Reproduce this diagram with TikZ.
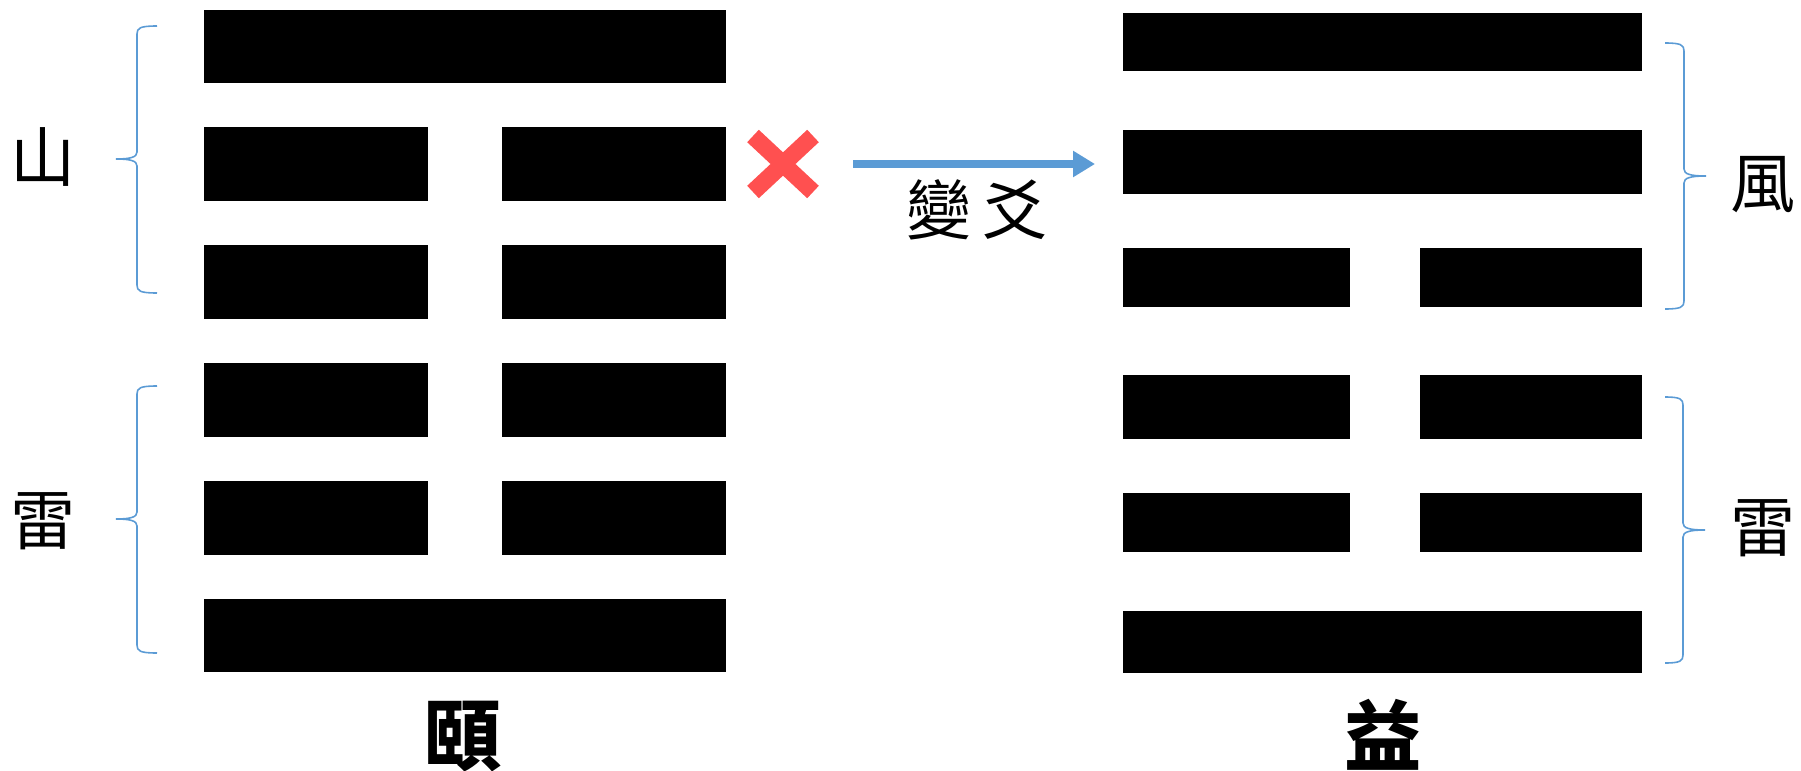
\documentclass[tikz,border=0pt]{standalone}
\usepackage{fontspec}
\usepackage{tikz}
\usetikzlibrary{arrows.meta, calc}
\newfontfamily\cjk{Noto Sans CJK TC}

\begin{document}
\begin{tikzpicture}[x=0.01cm, y=-0.01cm]
        % 定义颜色
        \definecolor{braceBlue}{RGB}{91,155,213}  % 括号/箭头蓝
        \definecolor{crossRed}{RGB}{255,80,80}    % 叉号红
        \tikzset{
            yao/.style={fill=black},
            gua/.style={font=\cjk\fontsize{18.5}{20}\selectfont, inner sep=0pt},
            ming/.style={font=\cjk\bfseries\fontsize{22}{24}\selectfont, inner sep=0pt},
            kuohao/.style={draw=braceBlue, line width=0.45pt},
        }
        \useasboundingbox (0,0) rectangle (1801,770);

        % 左边: 颐卦 (上山下雷)
        \fill[yao] (204,10) rectangle (726,83);
        \fill[yao] (204,127) rectangle (428,201);
        \fill[yao] (502,127) rectangle (726,201);
        \fill[yao] (204,245) rectangle (428,319);
        \fill[yao] (502,245) rectangle (726,319);
        \fill[yao] (204,363) rectangle (428,437);
        \fill[yao] (502,363) rectangle (726,437);
        \fill[yao] (204,481) rectangle (428,555);
        \fill[yao] (502,481) rectangle (726,555);
        \fill[yao] (204,599) rectangle (726,672);

        % 右边: 益卦 (上风下雷)
        \fill[yao] (1123,13) rectangle (1642,71);
        \fill[yao] (1123,130) rectangle (1642,194);
        \fill[yao] (1123,248) rectangle (1350,307);
        \fill[yao] (1420,248) rectangle (1642,307);
        \fill[yao] (1123,375) rectangle (1350,439);
        \fill[yao] (1420,375) rectangle (1642,439);
        \fill[yao] (1123,493) rectangle (1350,552);
        \fill[yao] (1420,493) rectangle (1642,552);
        \fill[yao] (1123,611) rectangle (1642,673);

        % 括号
        \draw[kuohao] (157,26) .. controls (140,26) and (137,28) .. (137,34) -- (137,152)
            .. controls (137,157) and (131,159) .. (116,159) .. controls (131,159) and (137,161) .. (137,166)
            -- (137,285) .. controls (137,291) and (140,293) .. (157,293);
        \draw[kuohao] (157,386) .. controls (140,386) and (137,388) .. (137,394) -- (137,512)
            .. controls (137,517) and (131,519) .. (116,519) .. controls (131,519) and (137,521) .. (137,526)
            -- (137,645) .. controls (137,651) and (140,653) .. (157,653);
        \draw[kuohao] (1665,43) .. controls (1681,43) and (1684,45) .. (1684,51) -- (1684,169)
            .. controls (1684,174) and (1690,176) .. (1706,176) .. controls (1690,176) and (1684,178) .. (1684,183)
            -- (1684,301) .. controls (1684,307) and (1681,309) .. (1665,309);
        \draw[kuohao] (1665,397) .. controls (1680,397) and (1683,399) .. (1683,405) -- (1683,523)
            .. controls (1683,528) and (1689,530) .. (1705,530) .. controls (1689,530) and (1683,532) .. (1683,537)
            -- (1683,655) .. controls (1683,661) and (1680,663) .. (1665,663);

        % 卦名
        \node[gua] (shan) at (43,157) {山};
        \node[gua] (leiL) at (43,521) {雷};
        \node[gua] (feng) at (1763,185) {風};
        \node[gua] (leiR) at (1763,528) {雷};
        \node[ming] (yi1) at (463,737) {頤};
        \node[ming] (yi2) at (1383,735) {益};

        % 叉号与变爻箭头
        \coordinate (cross) at (783,164);
        \draw[crossRed, line width=0.17cm] ($(cross)+(-30,-28)$) -- ($(cross)+(30,28)$);
        \draw[crossRed, line width=0.17cm] ($(cross)+(-30,28)$) -- ($(cross)+(30,-28)$);
        \coordinate (from) at (853,164);
        \coordinate (to) at (1095,164);
        \draw[braceBlue, line width=0.08cm, -{Triangle[length=0.22cm, width=0.25cm]}] (from) -- (to);
        \node[gua] (bianyao) at (977,210) {變\hspace{0.11cm}爻};
\end{tikzpicture}
\end{document}
